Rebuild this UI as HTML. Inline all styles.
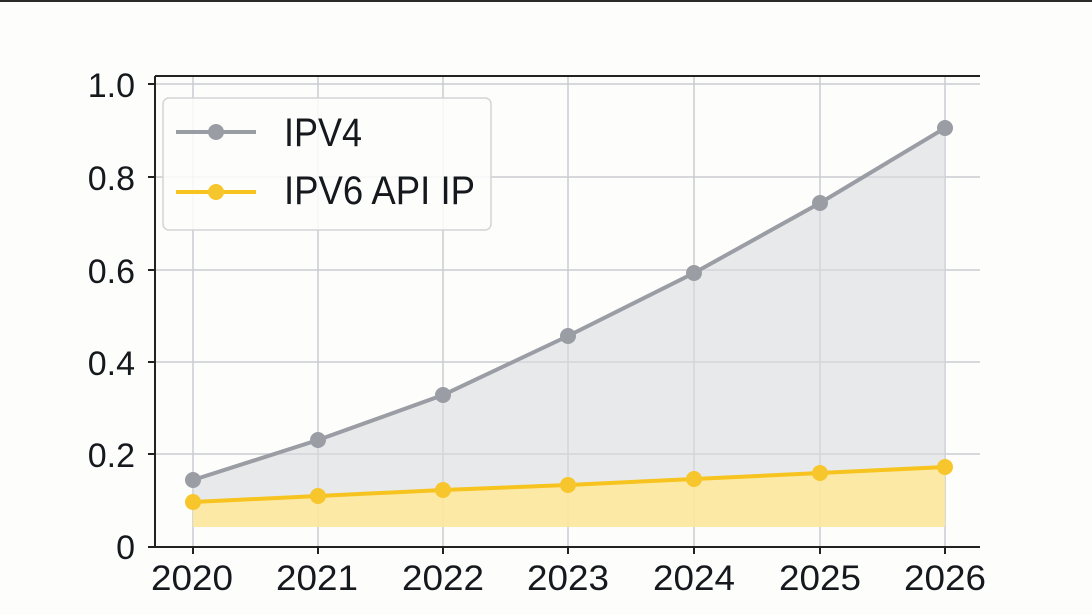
<!DOCTYPE html>
<html><head><meta charset="utf-8"><style>
html,body{margin:0;padding:0;background:#fdfdfc;}
svg{display:block}
text{font-family:"Liberation Sans","DejaVu Sans",sans-serif;fill:#15181c}
</style></head><body>
<svg width="1092" height="615" viewBox="0 0 1092 615" xmlns="http://www.w3.org/2000/svg">
<rect x="0" y="0" width="1092" height="615" fill="#fdfdfc"/>
<rect x="0" y="0" width="1092" height="2" fill="#2a2a2a"/>
<g stroke="#c9ccd1" stroke-width="1.5">
<line x1="155" x2="980" y1="84" y2="84"/><line x1="155" x2="980" y1="177" y2="177"/>
<line x1="155" x2="980" y1="270" y2="270"/><line x1="155" x2="980" y1="362" y2="362"/>
<line x1="155" x2="980" y1="454" y2="454"/>
<line x1="193" x2="193" y1="76" y2="547"/><line x1="318" x2="318" y1="76" y2="547"/>
<line x1="443" x2="443" y1="76" y2="547"/><line x1="568" x2="568" y1="76" y2="547"/>
<line x1="694" x2="694" y1="76" y2="547"/><line x1="820" x2="820" y1="76" y2="547"/>
<line x1="945" x2="945" y1="76" y2="547"/>
</g>
<polygon fill="#d9dce0" fill-opacity="0.6" points="193,480 318,440 443,395 568,336 694,273 820,203 945,128 945,467 820,473 694,479 568,485 443,490 318,496 193,502"/>
<polygon fill="#fde79c" fill-opacity="0.9" points="193,502 318,496 443,490 568,485 694,479 820,473 945,467 945,527 193,527"/>
<polyline fill="none" stroke="#9a9da3" stroke-width="4" points="193,480 318,440 443,395 568,336 694,273 820,203 945,128"/>
<polyline fill="none" stroke="#f7c31f" stroke-width="4" points="193,502 318,496 443,490 568,485 694,479 820,473 945,467"/>
<g fill="#9a9da3"><circle cx="193" cy="480" r="8"/><circle cx="318" cy="440" r="8"/><circle cx="443" cy="395" r="8"/><circle cx="568" cy="336" r="8"/><circle cx="694" cy="273" r="8"/><circle cx="820" cy="203" r="8"/><circle cx="945" cy="128" r="8"/></g>
<g fill="#f7c62c"><circle cx="193" cy="502" r="8"/><circle cx="318" cy="496" r="8"/><circle cx="443" cy="490" r="8"/><circle cx="568" cy="485" r="8"/><circle cx="694" cy="479" r="8"/><circle cx="820" cy="473" r="8"/><circle cx="945" cy="467" r="8"/></g>
<g stroke="#222" stroke-width="2">
<line x1="155" x2="980" y1="76" y2="76"/>
<line x1="155" x2="155" y1="76" y2="547"/>
<line x1="155" x2="980" y1="547" y2="547"/>
<line x1="148" x2="155" y1="84" y2="84"/><line x1="148" x2="155" y1="177" y2="177"/><line x1="148" x2="155" y1="270" y2="270"/><line x1="148" x2="155" y1="362" y2="362"/><line x1="148" x2="155" y1="454" y2="454"/><line x1="148" x2="155" y1="547" y2="547"/>
<line x1="193" x2="193" y1="547" y2="554"/><line x1="318" x2="318" y1="547" y2="554"/><line x1="443" x2="443" y1="547" y2="554"/><line x1="568" x2="568" y1="547" y2="554"/><line x1="694" x2="694" y1="547" y2="554"/><line x1="820" x2="820" y1="547" y2="554"/><line x1="945" x2="945" y1="547" y2="554"/>
</g>
<g font-size="34" text-anchor="end">
<text x="135" y="97">1.0</text><text x="135" y="190">0.8</text><text x="135" y="283">0.6</text><text x="135" y="375">0.4</text><text x="135" y="467">0.2</text><text x="135" y="559">0</text>
</g>
<g font-size="35" text-anchor="middle">
<text x="192" y="590" textLength="82" lengthAdjust="spacingAndGlyphs">2020</text><text x="317" y="590" textLength="82" lengthAdjust="spacingAndGlyphs">2021</text><text x="443" y="590" textLength="82" lengthAdjust="spacingAndGlyphs">2022</text><text x="568" y="590" textLength="82" lengthAdjust="spacingAndGlyphs">2023</text><text x="694" y="590" textLength="82" lengthAdjust="spacingAndGlyphs">2024</text><text x="820" y="590" textLength="82" lengthAdjust="spacingAndGlyphs">2025</text><text x="945" y="590" textLength="82" lengthAdjust="spacingAndGlyphs">2026</text>
</g>
<rect x="163" y="98" width="328" height="132" rx="6" fill="#fdfdfc" fill-opacity="0.85" stroke="#d2d4d6" stroke-width="1.5"/>
<line x1="176" x2="256" y1="132" y2="132" stroke="#9a9da3" stroke-width="4"/><circle cx="216" cy="132" r="8" fill="#9a9da3"/>
<line x1="176" x2="256" y1="192" y2="192" stroke="#f7c31f" stroke-width="4"/><circle cx="216" cy="192" r="8" fill="#f7c62c"/>
<text x="284" y="146" font-size="40" textLength="78" lengthAdjust="spacingAndGlyphs">IPV4</text>
<text x="284" y="204" font-size="40" textLength="191" lengthAdjust="spacingAndGlyphs">IPV6 API IP</text>
</svg>
</body></html>
